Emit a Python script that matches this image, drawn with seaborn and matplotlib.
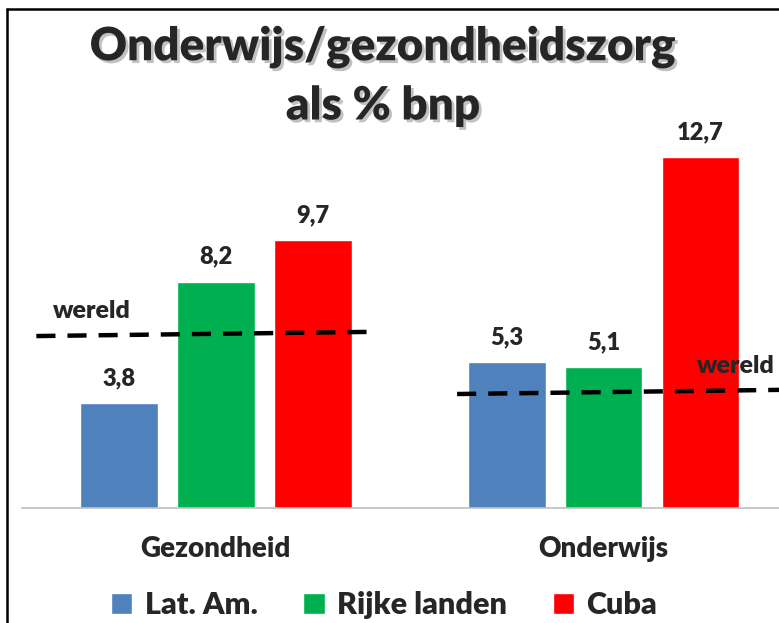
import pandas as pd
import matplotlib
matplotlib.use('Agg')
import matplotlib.pyplot as plt
import matplotlib.patheffects as pe
from matplotlib.lines import Line2D
import seaborn as sns

# data
categories = ['Gezondheid', 'Onderwijs']
groups = ['Lat. Am.', 'Rijke landen', 'Cuba']
lat_am = [3.8, 5.3]
rijke_landen = [8.2, 5.1]
cuba = [9.7, 12.7]
wereld = [6.3, 4.2]
value_labels = [['3,8', '5,3'], ['8,2', '5,1'], ['9,7', '12,7']]

colors = ['#4F81BD', '#00B050', '#FF0000']

df = pd.DataFrame({
    'categorie': categories * 3,
    'groep': [g for g in groups for _ in categories],
    'waarde': lat_am + rijke_landen + cuba,
})

sns.set_style('white')
plt.rcParams['font.family'] = ['Lato', 'DejaVu Sans']
W = 'heavy'

fig = plt.figure(figsize=(7.79, 6.23), dpi=100)
ax = fig.add_axes([22 / 779, 1 - 508 / 623, 1 - 22 / 779, 14 * 27.6 / 623])

sns.barplot(data=df, x='categorie', y='waarde', hue='groep', order=categories,
            hue_order=groups, palette=colors, width=0.75, gap=0.2,
            saturation=1, ax=ax, legend=True)

ax.set_ylim(0, 14)
ax.set_xlim(-0.5, 1.452)

# value labels above the bars
for container, labels in zip(ax.containers, value_labels):
    ax.bar_label(container, labels=labels, padding=10, fontsize=17,
                 fontweight=W)

# world averages as dashed lines
dash = dict(color='black', lw=3.2, dashes=(4.3, 2.7))
ax.plot([-0.463, 0.39], [wereld[0] - 0.07, wereld[0] + 0.08], **dash)
ax.plot([0.622, 1.452], [wereld[1] - 0.07, wereld[1] + 0.08], **dash)
ax.text(-0.321, wereld[0] + 0.85, 'wereld', ha='center', va='center',
        fontsize=18, fontweight=W)
ax.text(1.341, wereld[1] + 0.95, 'wereld', ha='center', va='center',
        fontsize=18, fontweight=W)

# axes cosmetics
sns.despine(ax=ax, left=True)
ax.spines['bottom'].set_color('#BFBFBF')
ax.spines['bottom'].set_linewidth(1.2)
ax.set_yticks([])
ax.set_xlabel('')
ax.set_ylabel('')
ax.tick_params(axis='x', length=0, pad=20, labelsize=20)
for lbl in ax.get_xticklabels():
    lbl.set_fontweight(W)

# legend at the bottom
handles, labels = ax.get_legend_handles_labels()
ax.legend(handles, labels, loc='center', bbox_to_anchor=(384 / 779, 1 - 605 / 623),
          bbox_transform=fig.transFigure, ncol=3, frameon=False,
          fontsize=22, handlelength=0.7, handleheight=0.7,
          handletextpad=0.4, columnspacing=1.5, borderaxespad=0)
for t in ax.get_legend().get_texts():
    t.set_fontweight(W)

# title with a soft drop shadow
shadow = [pe.SimplePatchShadow(offset=(2, -2), shadow_rgbFace='#777777', alpha=0.45),
          pe.Normal()]
fig.text(383 / 779, 1 - 47 / 623, 'Onderwijs/gezondheidszorg', ha='center',
         va='center', fontsize=33, fontweight=W, path_effects=shadow)
fig.text(383 / 779, 1 - 106 / 623, 'als % bnp', ha='center', va='center',
         fontsize=33, fontweight=W, path_effects=shadow)

# slide frame (left and top edge)
fig.add_artist(Line2D([7 / 779, 7 / 779], [0, 1 - 9 / 623], color='black', lw=1.8))
fig.add_artist(Line2D([7 / 779, 1], [1 - 9 / 623, 1 - 9 / 623], color='black', lw=1.8))

plt.savefig('out.png', dpi=100)
plt.close()
